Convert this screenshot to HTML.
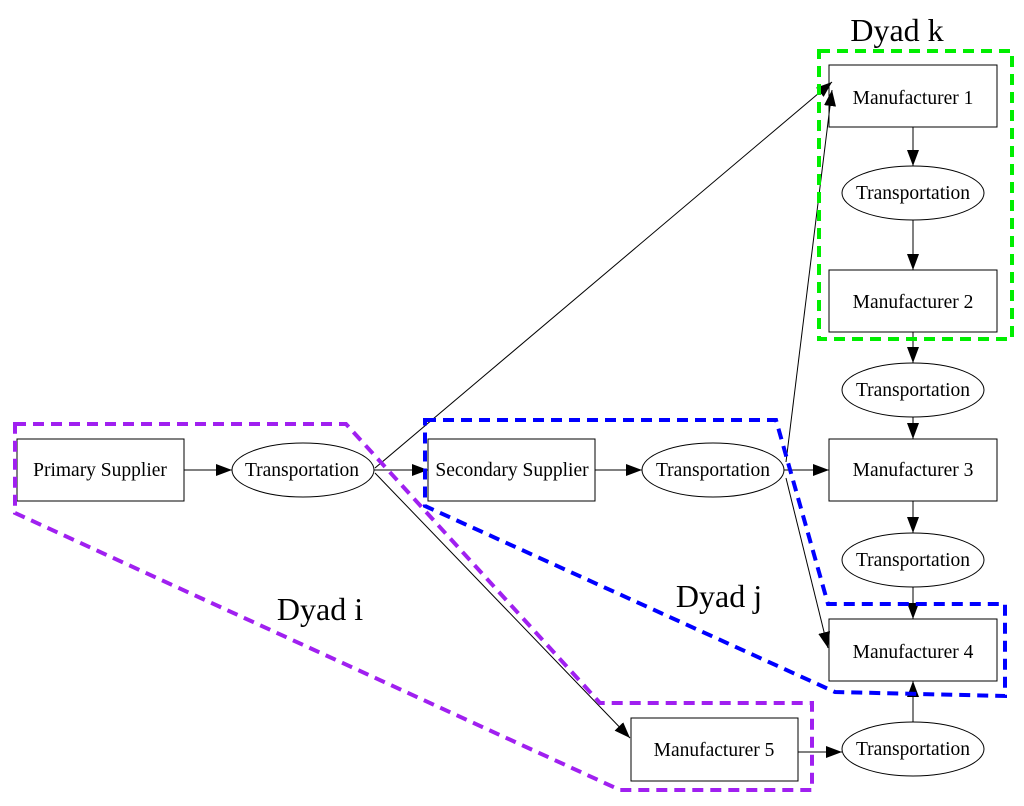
<!DOCTYPE html>
<html><head><meta charset="utf-8"><style>
html,body{margin:0;padding:0;background:#fff;width:1024px;height:806px;overflow:hidden}
svg{display:block}
text{font-family:"Liberation Serif",serif;fill:#000}
</style></head><body>
<svg width="1024" height="806" viewBox="0 0 1024 806" xmlns="http://www.w3.org/2000/svg">
<defs>
<marker id="b" markerWidth="16" markerHeight="12" refX="16" refY="6" orient="auto" markerUnits="userSpaceOnUse">
<path d="M0,0 L16,6 L0,12 z" fill="#000"/></marker>
</defs>
<g fill="none" stroke="#000" stroke-width="1">
<rect x="17" y="439" width="167" height="62"/>
<ellipse cx="303" cy="470" rx="71" ry="27"/>
<rect x="428" y="439" width="167" height="62"/>
<ellipse cx="713" cy="470" rx="71" ry="27"/>
<rect x="829" y="439" width="168" height="62"/>
<rect x="829" y="65" width="168" height="62"/>
<ellipse cx="913" cy="193" rx="71" ry="27"/>
<rect x="829" y="270" width="168" height="62"/>
<ellipse cx="913" cy="390" rx="71" ry="27"/>
<ellipse cx="913" cy="560" rx="71" ry="27"/>
<rect x="829" y="619" width="168" height="62"/>
<rect x="631" y="718" width="167" height="63"/>
<ellipse cx="913" cy="749" rx="71" ry="27"/>
</g>
<g stroke="#000" stroke-width="1" fill="none">
<line x1="184" y1="470" x2="232" y2="470" marker-end="url(#b)"/>
<line x1="374" y1="470" x2="428" y2="470" marker-end="url(#b)"/>
<line x1="595" y1="470" x2="642" y2="470" marker-end="url(#b)"/>
<line x1="784" y1="470" x2="829" y2="470" marker-end="url(#b)"/>
<line x1="375" y1="468" x2="832" y2="82" marker-end="url(#b)"/>
<line x1="375" y1="473" x2="630" y2="738" marker-end="url(#b)"/>
<line x1="786" y1="462" x2="832" y2="90" marker-end="url(#b)"/>
<line x1="786" y1="478" x2="828" y2="648" marker-end="url(#b)"/>
<line x1="913" y1="127" x2="913" y2="166" marker-end="url(#b)"/>
<line x1="913" y1="220" x2="913" y2="270" marker-end="url(#b)"/>
<line x1="913" y1="332" x2="913" y2="363" marker-end="url(#b)"/>
<line x1="913" y1="417" x2="913" y2="439" marker-end="url(#b)"/>
<line x1="913" y1="501" x2="913" y2="533" marker-end="url(#b)"/>
<line x1="913" y1="587" x2="913" y2="619" marker-end="url(#b)"/>
<line x1="798" y1="752" x2="842" y2="752" marker-end="url(#b)"/>
<line x1="913" y1="722" x2="913" y2="681" marker-end="url(#b)"/>
</g>
<g fill="none" stroke-width="4" stroke-dasharray="11,7">
<polygon stroke="#00ee00" points="819,51 1012,51 1012,339 819,339"/>
<polygon stroke="#0000ff" points="425,420 776,420 828,604 1005,604 1005,696 835,692 425,506"/>
<polygon stroke="#a020f0" points="15,424 346,424 600,703 812,703 812,790 620,790 15,513"/>
</g>
<g font-size="19.5" text-anchor="middle">
<text x="100" y="476">Primary Supplier</text>
<text x="302" y="476">Transportation</text>
<text x="512" y="476">Secondary Supplier</text>
<text x="713" y="476">Transportation</text>
<text x="913" y="476">Manufacturer 3</text>
<text x="913" y="104">Manufacturer 1</text>
<text x="913" y="199">Transportation</text>
<text x="913" y="308">Manufacturer 2</text>
<text x="913" y="396">Transportation</text>
<text x="913" y="566">Transportation</text>
<text x="913" y="658">Manufacturer 4</text>
<text x="714" y="756">Manufacturer 5</text>
<text x="913" y="755">Transportation</text>
</g>
<g font-size="32" text-anchor="middle">
<text x="897" y="41">Dyad k</text>
<text x="320" y="620">Dyad i</text>
<text x="719" y="607">Dyad j</text>
</g>
</svg>
</body></html>
